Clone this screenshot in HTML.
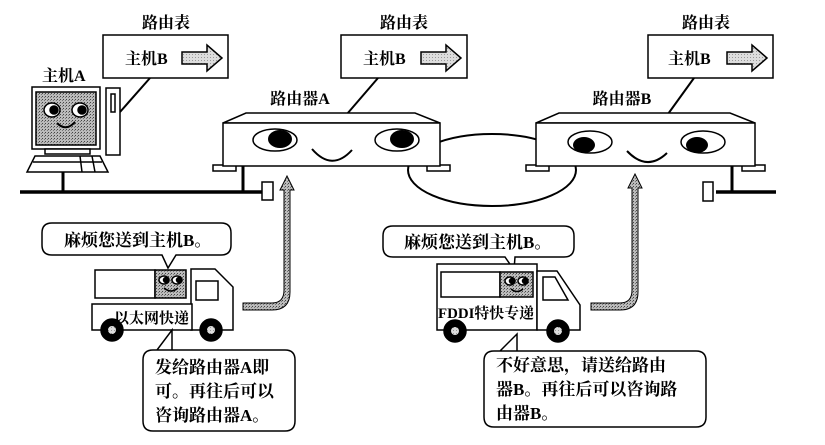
<!DOCTYPE html>
<html><head><meta charset="utf-8"><style>
html,body{margin:0;padding:0;background:#fff;}
svg{display:block;}
text{font-family:"Liberation Serif","Noto Serif CJK SC","Noto Sans CJK SC",serif;fill:#000;}
</style></head><body>
<svg width="825" height="445" viewBox="0 0 825 445" xmlns="http://www.w3.org/2000/svg">
<defs>
<pattern id="g" width="3" height="3" patternUnits="userSpaceOnUse">
<rect width="3" height="3" fill="#bbb"/><rect width="1" height="1" fill="#444"/><rect x="2" y="1" width="1" height="1" fill="#777"/>
</pattern>
<pattern id="lg" width="3" height="3" patternUnits="userSpaceOnUse">
<rect width="3" height="3" fill="#ddd"/><rect width="1" height="1" fill="#999"/>
</pattern>
</defs>
<g stroke="#000" stroke-width="1.5" fill="none">
<line x1="20" y1="192" x2="265" y2="192" stroke-width="3.5"/>
<line x1="716" y1="192" x2="776" y2="192" stroke-width="3.5"/>
<rect x="262" y="182" width="11" height="18" fill="#fff"/>
<rect x="703" y="182" width="10" height="19" fill="#fff"/>
<line x1="63" y1="170" x2="63" y2="192" stroke-width="3"/>
<line x1="243" y1="166" x2="243" y2="192" stroke-width="3"/>
<line x1="732" y1="166" x2="732" y2="192" stroke-width="3"/>
<ellipse cx="492" cy="170" rx="84" ry="36" stroke-width="2"/>
<rect x="103" y="35" width="125" height="43" fill="#fff"/>
<rect x="341" y="35" width="126" height="43" fill="#fff"/>
<rect x="648" y="35" width="125" height="43" fill="#fff"/>
<polygon points="182,52 207,52 207,45 222,58 207,71 207,64 182,64" fill="url(#lg)"/>
<polygon points="421,52 446,52 446,45 461,58 446,71 446,64 421,64" fill="url(#lg)"/>
<polygon points="727,52 752,52 752,45 767,58 752,71 752,64 727,64" fill="url(#lg)"/>
<line x1="150" y1="78" x2="120" y2="112" stroke-width="2"/>
<line x1="378" y1="78" x2="347" y2="114" stroke-width="2"/>
<line x1="694" y1="78" x2="668" y2="114" stroke-width="2"/>
<rect x="32" y="87" width="68" height="62" fill="#fff"/>
<rect x="36" y="92" width="60" height="53" fill="url(#g)"/>
<rect x="106" y="88" width="14" height="67" fill="#fff"/>
<rect x="111" y="94" width="4" height="18" fill="#fff"/>
<rect x="45" y="149" width="45" height="5" fill="#fff"/>
<polygon points="35,156 100,156 108,172 27,172" fill="#fff"/>
<line x1="33" y1="162" x2="102" y2="162"/>
<line x1="80" y1="156" x2="82" y2="172"/>
<line x1="92" y1="156" x2="95" y2="172"/>
<ellipse cx="52" cy="110" rx="8" ry="7" fill="#fff"/>
<circle cx="54" cy="110" r="4" fill="#000"/>
<ellipse cx="80" cy="110" rx="8" ry="7" fill="#fff"/>
<circle cx="82" cy="110" r="4" fill="#000"/>
<path d="M57 123 Q66 132 75 122" stroke-width="2"/>
<rect x="213" y="165" width="23" height="6" fill="#fff"/>
<rect x="427" y="165" width="23" height="6" fill="#fff"/>
<polygon points="223,123 246,113 415,113 440,123" fill="#fff"/>
<rect x="223" y="123" width="217" height="43" fill="#fff"/>
<ellipse cx="275" cy="140" rx="22" ry="11" fill="#fff"/>
<ellipse cx="280" cy="139" rx="12" ry="9" fill="#000" stroke="none"/>
<ellipse cx="397" cy="140" rx="22" ry="11" fill="#fff"/>
<ellipse cx="402" cy="139" rx="12" ry="9" fill="#000" stroke="none"/>
<path d="M312 149 Q332 172 352 150" stroke-width="2"/>
<rect x="526" y="165" width="23" height="6" fill="#fff"/>
<rect x="742" y="165" width="23" height="6" fill="#fff"/>
<polygon points="536,123 559,113 730,113 755,123" fill="#fff"/>
<rect x="536" y="123" width="219" height="43" fill="#fff"/>
<ellipse cx="590" cy="142" rx="22" ry="11" fill="#fff"/>
<ellipse cx="584" cy="145" rx="11" ry="8" fill="#000" stroke="none"/>
<ellipse cx="703" cy="142" rx="22" ry="11" fill="#fff"/>
<ellipse cx="697" cy="145" rx="11" ry="8" fill="#000" stroke="none"/>
<path d="M627 151 Q647 172 667 153" stroke-width="2"/>
<path d="M243 303 L272 303 Q284 303 284 290 L284 190 L280 190 L287 176 L294 190 L290 190 L290 292 Q290 310 272 310 L243 310 Z" fill="url(#g)" stroke-width="1"/>
<path d="M591 303 L620 303 Q632 303 632 290 L632 188 L628 188 L635 174 L642 188 L638 188 L638 292 Q638 310 620 310 L591 310 Z" fill="url(#g)" stroke-width="1"/>
<path d="M52 223 H221 Q231 223 231 233 V245 Q231 255 221 255 H176 L168 268 L162 255 H52 Q42 255 42 245 V233 Q42 223 52 223 Z" fill="#fff"/>
<rect x="95" y="270" width="60" height="28" fill="#fff"/>
<rect x="155" y="270" width="31" height="28" fill="url(#g)"/>
<ellipse cx="164" cy="280" rx="5" ry="4" fill="#fff"/><circle cx="166" cy="280" r="2.5" fill="#000"/>
<ellipse cx="177" cy="280" rx="5" ry="4" fill="#fff"/><circle cx="179" cy="280" r="2.5" fill="#000"/>
<path d="M164 288 Q171 294 178 288"/>
<polygon points="191,269 215,269 233,287 233,330 191,330" fill="#fff"/>
<rect x="196" y="281" width="22" height="19" fill="#fff"/>
<rect x="92" y="304" width="100" height="26" fill="#fff"/>
<circle cx="112" cy="330" r="11" fill="#000"/><circle cx="112" cy="330" r="4" fill="url(#lg)" stroke="none"/>
<circle cx="211" cy="330" r="11" fill="#000"/><circle cx="211" cy="330" r="4" fill="url(#lg)" stroke="none"/>
<path d="M153 350 H285 Q295 350 295 360 V421 Q295 431 285 431 H153 Q143 431 143 421 V360 Q143 350 153 350 H157 L172 330 L172 350" fill="#fff"/>
<path d="M393 226 H564 Q574 226 574 236 V247 Q574 257 564 257 H515 L514 270 L505 257 H393 Q383 257 383 247 V236 Q383 226 393 226 Z" fill="#fff"/>
<rect x="437" y="264" width="100" height="66" fill="#fff"/>
<rect x="441" y="272" width="59" height="25" fill="#fff"/>
<rect x="500" y="272" width="33" height="25" fill="url(#g)"/>
<ellipse cx="510" cy="281" rx="5" ry="4" fill="#fff"/><circle cx="512" cy="281" r="2.5" fill="#000"/>
<ellipse cx="523" cy="281" rx="5" ry="4" fill="#fff"/><circle cx="525" cy="281" r="2.5" fill="#000"/>
<path d="M511 289 Q517 294 523 289"/>
<polygon points="537,271 557,271 580,305 580,330 537,330" fill="#fff"/>
<polygon points="543,277 555,277 568,300 543,300" fill="#fff"/>
<circle cx="455" cy="331" r="11" fill="#000"/><circle cx="455" cy="331" r="4" fill="url(#lg)" stroke="none"/>
<circle cx="558" cy="331" r="11" fill="#000"/><circle cx="558" cy="331" r="4" fill="url(#lg)" stroke="none"/>
<path d="M494 351 H696 Q706 351 706 361 V417 Q706 427 696 427 H494 Q484 427 484 417 V361 Q484 351 494 351 H500 L517 334 L517 351" fill="#fff"/>
</g>
<g font-size="16" font-weight="bold">
<text x="166" y="28" text-anchor="middle">路由表</text>
<text x="404" y="28" text-anchor="middle">路由表</text>
<text x="706" y="28" text-anchor="middle">路由表</text>
<text x="125" y="64">主机B</text>
<text x="363" y="64">主机B</text>
<text x="668" y="64">主机B</text>
<text x="42" y="81">主机A</text>
<text x="300" y="104" text-anchor="middle">路由器A</text>
<text x="622" y="104" text-anchor="middle">路由器B</text>
</g>
<g font-size="17" font-weight="bold">
<text x="64" y="246">麻烦您送到主机B。</text>
<text x="404" y="248">麻烦您送到主机B。</text>
<text x="155" y="373">发给路由器A即</text>
<text x="155" y="397">可。再往后可以</text>
<text x="155" y="421">咨询路由器A。</text>
<text x="496" y="371">不好意思，请送给路由</text>
<text x="496" y="395">器B。再往后可以咨询路</text>
<text x="496" y="419">由器B。</text>
</g>
<g font-size="15" font-weight="bold">
<text x="114" y="323">以太网快递</text>
<text x="438" y="318" textLength="96" lengthAdjust="spacingAndGlyphs">FDDI特快专递</text>
</g>
</svg>
</body></html>
